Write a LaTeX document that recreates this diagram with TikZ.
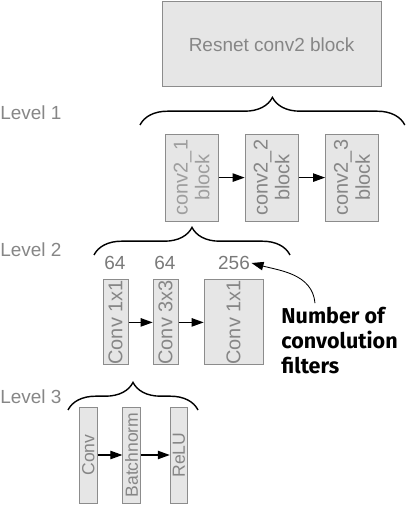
\documentclass[tikz,border=0pt]{standalone}
\usepackage{fontspec}
\setmainfont{Liberation Sans}
\newfontfamily\notefont{Fira Sans}
\usetikzlibrary{positioning,arrows.meta,decorations.pathreplacing}
\definecolor{boxfill}{HTML}{E6E6E6}
\definecolor{boxline}{HTML}{8C8C8C}
\definecolor{txtgray}{HTML}{868686}

\begin{document}
\begin{tikzpicture}[
      >={Triangle[length=3mm,width=2.1mm]},
      every node/.style={font=\fontsize{13.5}{16}\selectfont},
      blk/.style={draw=boxline,line width=0.6pt,fill=boxfill,text=txtgray,inner sep=0pt},
      vblk/.style={blk,rotate=90,align=center},
      lvl/.style={text=txtgray,anchor=west,inner sep=0pt},
      num/.style={text=txtgray!90!black,inner sep=1pt},
      brc/.style={decorate,decoration={brace,amplitude=0.69cm},line width=1pt},
      link/.style={->,line width=0.8pt}
    ]
    \useasboundingbox (0,0) rectangle (10.15,12.65);
    % whole block
    \node[blk,minimum width=5.475cm,minimum height=2.125cm] (res) at (6.79,11.54) {Resnet conv2 block};
    % level captions
    \node[lvl] (lv1) at (0,9.83) {Level 1};
    \node[lvl] (lv2) at (0,6.40) {Level 2};
    \node[lvl] (lv3) at (0,2.73) {Level 3};
    % level 1: three sub-blocks
    \begin{scope}[every node/.style={font=\fontsize{14.2}{15.6}\selectfont}]
      \node[vblk,minimum width=2.175cm,minimum height=1.325cm,text=txtgray!80] (c21) at (4.79,8.21) {conv2\_1\\block};
      \node[vblk,minimum width=2.175cm,minimum height=1.325cm] (c22) at (6.79,8.21) {conv2\_2\\block};
      \node[vblk,minimum width=2.175cm,minimum height=1.325cm] (c23) at (8.80,8.21) {conv2\_3\\block};
    \end{scope}
    \draw[link] (c21) -- (c22);
    \draw[link] (c22) -- (c23);
    \coordinate (b1l) at (3.50,9.525);
    \coordinate (b1r) at (10.12,9.525);
    \draw[brc] (b1l) -- (b1r);
    % level 2: the three convolutions of conv2_1
    \begin{scope}[every node/.style={font=\fontsize{14.2}{16}\selectfont}]
      \node[vblk,minimum width=2.125cm,minimum height=0.625cm] (cv1) at (2.89,4.59) {Conv 1x1};
      \node[vblk,minimum width=2.125cm,minimum height=0.625cm] (cv2) at (4.14,4.59) {Conv 3x3};
      \node[vblk,minimum width=2.125cm,minimum height=1.475cm] (cv3) at (5.84,4.59) {Conv 1x1};
    \end{scope}
    \draw[link] (cv1) -- (cv2);
    \draw[link] (cv2) -- (cv3);
    \node[num] (n1) at (2.875,6.075) {64};
    \node[num] (n2) at (4.125,6.075) {64};
    \node[num] (n3) at (5.85,6.075) {256};
    \coordinate (b2l) at (2.35,6.275);
    \coordinate (b2r) at (7.25,6.275);
    \draw[brc] (b2l) -- (b2r);
    % filter annotation
    \node[anchor=north west,align=left,inner sep=0pt,font=\notefont\bfseries\fontsize{15.3}{17.8}\selectfont] (note) at (7.03,4.97) {Number of\\convolution\\filters};
    \coordinate (ns) at (7.875,5.07);
    \draw[link,line width=0.6pt] (ns) to[out=95,in=-15] (n3.east);
    % level 3: layers of one convolution
    \begin{scope}[every node/.style={font=\fontsize{12.5}{14}\selectfont}]
      \node[vblk,minimum width=2.4cm,minimum height=0.44cm] (ly1) at (2.21,1.275) {Conv};
      \node[vblk,minimum width=2.4cm,minimum height=0.44cm] (ly2) at (3.29,1.275) {Batchnorm};
      \node[vblk,minimum width=2.4cm,minimum height=0.44cm] (ly3) at (4.475,1.275) {ReLU};
    \end{scope}
    \draw[link] (ly1) -- (ly2);
    \draw[link] (ly2) -- (ly3);
    \coordinate (b3l) at (1.70,2.40);
    \coordinate (b3r) at (4.95,2.40);
    \draw[brc] (b3l) -- (b3r);
  \end{tikzpicture}
\end{document}
